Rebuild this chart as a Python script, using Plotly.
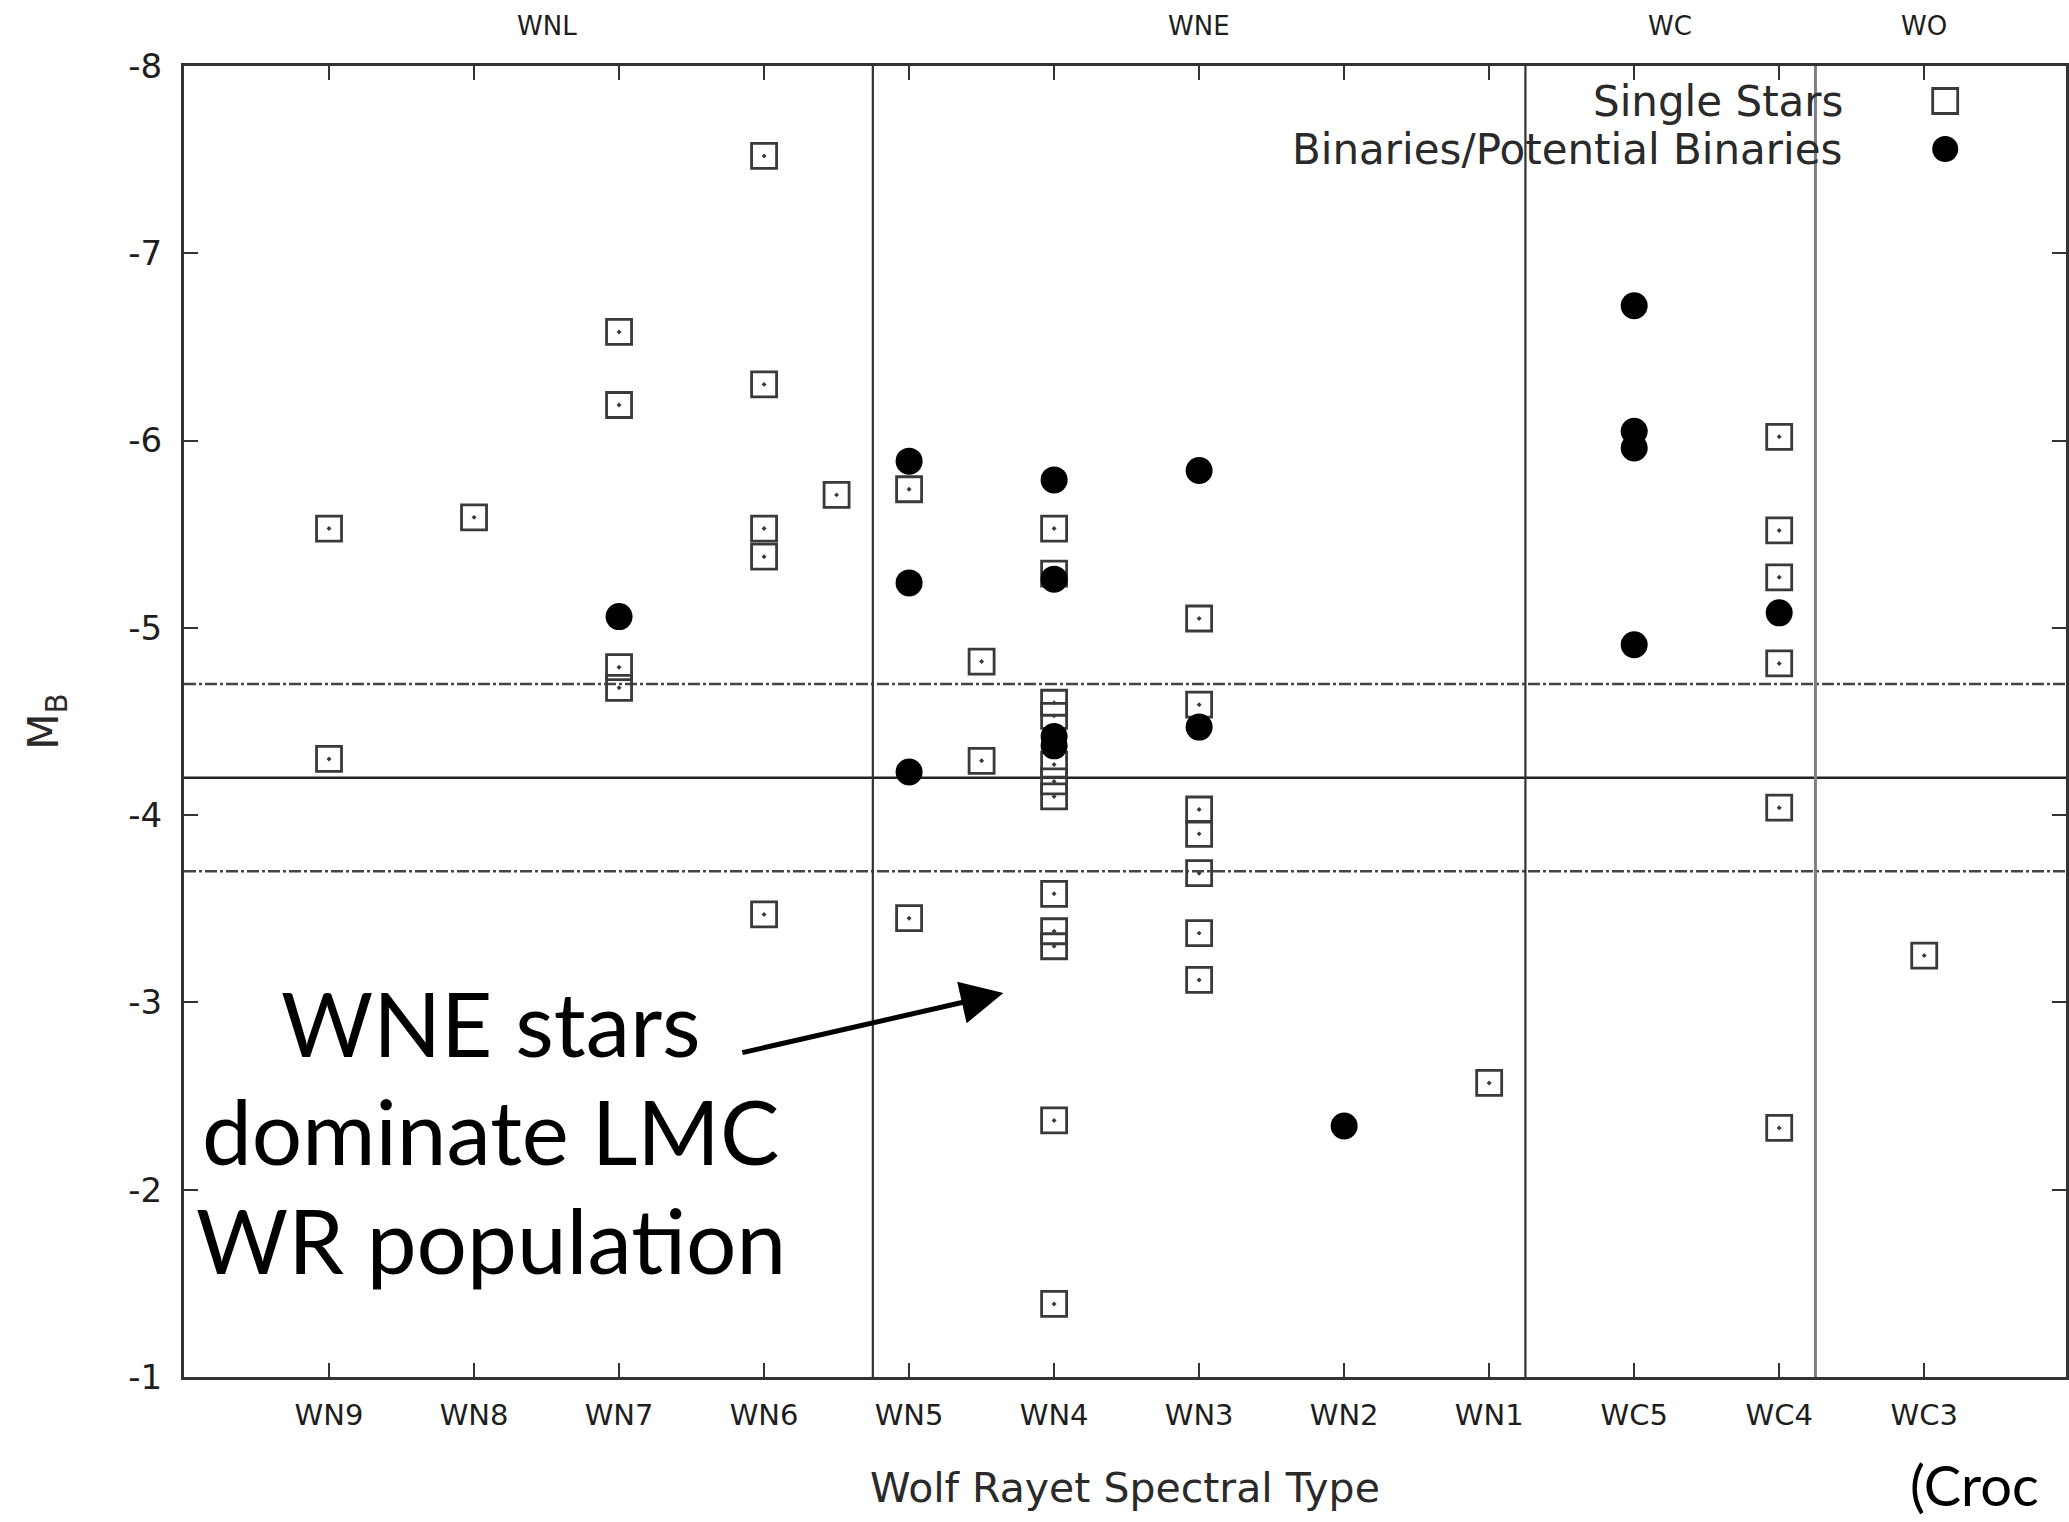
import plotly.graph_objects as go

# Spectral sequence along the x axis (WN9 ... WC3)
spectral_types = ["WN9", "WN8", "WN7", "WN6", "WN5", "WN4", "WN3", "WN2", "WN1", "WC5", "WC4", "WC3"]
# Intermediate subtypes plotted half-way between two neighbours
intermediate_types = {"WN5.5": ("WN6", "WN5"), "WN4.5": ("WN5", "WN4")}

# Single stars: spectral type and absolute B magnitude
single_type = (["WN9"] * 2 + ["WN8"] + ["WN7"] * 4 + ["WN6"] * 5 + ["WN5.5"] + ["WN5"] * 2 +
               ["WN4.5"] * 2 + ["WN4"] * 12 + ["WN3"] * 7 + ["WN1"] + ["WC4"] * 6 + ["WC3"])
single_mb = [-5.53, -4.30,
             -5.59,
             -6.58, -6.19, -4.79, -4.68,
             -7.52, -6.30, -5.53, -5.38, -3.47,
             -5.71,
             -5.74, -3.45,
             -4.82, -4.29,
             -5.53, -5.29, -4.60, -4.53, -4.27, -4.18, -4.10, -3.58, -3.38, -3.30, -2.37, -1.39,
             -5.05, -4.59, -4.03, -3.90, -3.69, -3.37, -3.12,
             -2.57,
             -6.02, -5.52, -5.27, -4.81, -4.04, -2.33,
             -3.25]

# Binaries / potential binaries
binary_type = (["WN7"] + ["WN5"] * 3 + ["WN4"] * 4 + ["WN3"] * 2 + ["WN2"] +
               ["WC5"] * 4 + ["WC4"])
binary_mb = [-5.06,
             -5.89, -5.24, -4.23,
             -5.79, -5.26, -4.42, -4.37,
             -5.84, -4.47,
             -2.34,
             -6.72, -6.05, -5.96, -4.91,
             -5.08]

# Mean magnitude and +/- spread, subclass dividers, subclass names
mean_mb = [-4.2]
spread_mb = [-4.7, -3.7]
class_dividers = [4.75, 9.25, 11.25]
class_names = ["WNL", "WNE", "WC", "WO"]
class_centers = [2.5, 7.0, 10.25, 12.0]
y_ticks = [-8, -7, -6, -5, -4, -3, -2, -1]

pos = {t: i + 1 for i, t in enumerate(spectral_types)}
for name, (a, b) in intermediate_types.items():
    pos[name] = (pos[a] + pos[b]) / 2

W, H = 2069, 1522
L, R, T, B = 184, 0, 66, 145
plot_w = W - L - R
plot_h = H - T - B
x_unit = 145.25
x_max = plot_w / x_unit

GN_FONT = "DejaVu Sans"
AXIS_COL = "#333333"
TEXT_COL = "#1e1e1e"


def px_to_paper_x(px):
    return (px - L) / plot_w


def px_to_paper_y(py):
    return (H - B - py) / plot_h


fig = go.Figure()

fig.add_trace(go.Scatter(
    x=[pos[t] for t in single_type], y=single_mb, mode="markers",
    name="Single Stars",
    marker=dict(symbol="square-open-dot", size=25, color="#3a3a3a",
                line=dict(width=2.8, color="#3a3a3a")),
))
fig.add_trace(go.Scatter(
    x=[pos[t] for t in binary_type], y=binary_mb, mode="markers",
    name="Binaries/Potential Binaries",
    marker=dict(symbol="circle", size=27, color="#000000", line=dict(width=0)),
))

shapes = []
for v in mean_mb:
    shapes.append(dict(type="line", xref="paper", x0=0, x1=1, yref="y", y0=v, y1=v,
                       line=dict(color="#222222", width=2.5), layer="below"))
for v in spread_mb:
    shapes.append(dict(type="line", xref="paper", x0=0, x1=1, yref="y", y0=v, y1=v,
                       line=dict(color="#444444", width=2.5, dash="12px,3px,3px,3px"), layer="below"))
for i, v in enumerate(class_dividers):
    col = "#808080" if i == 2 else "#333333"
    wid = 3 if i == 2 else 2.2
    shapes.append(dict(type="line", xref="x", x0=v, x1=v, yref="paper", y0=0, y1=1,
                       line=dict(color=col, width=wid), layer="below"))

# Key symbols, drawn to the right of the key texts
key_x = px_to_paper_x(1948)
key_y = [px_to_paper_y(101), px_to_paper_y(149)]
shapes.append(dict(type="rect", xref="paper", yref="paper", xsizemode="pixel", ysizemode="pixel",
                   xanchor=key_x, yanchor=key_y[0], x0=-12.5, x1=12.5, y0=-12.5, y1=12.5,
                   line=dict(color="#3a3a3a", width=2.8), fillcolor="rgba(0,0,0,0)"))
shapes.append(dict(type="circle", xref="paper", yref="paper", xsizemode="pixel", ysizemode="pixel",
                   xanchor=key_x, yanchor=key_y[1], x0=-13, x1=13, y0=-13, y1=13,
                   line=dict(width=0), fillcolor="#000000"))

annotations = []
for name, c in zip(class_names, class_centers):
    annotations.append(dict(x=c, xref="x", y=px_to_paper_y(26), yref="paper", text=name,
                            showarrow=False, xanchor="center", yanchor="middle",
                            font=dict(family=GN_FONT, size=26, color=TEXT_COL)))

for txt, ky in zip(["Single Stars", "Binaries/Potential Binaries"], key_y):
    annotations.append(dict(x=px_to_paper_x(1848), xref="paper", y=ky, yref="paper", text=txt,
                            showarrow=False, xanchor="right", yanchor="middle",
                            font=dict(family=GN_FONT, size=42, color="#2a2a2a")))

annotations.append(dict(x=0.5, xref="paper", y=px_to_paper_y(1488), yref="paper",
                        text="Wolf Rayet Spectral Type", showarrow=False,
                        xanchor="center", yanchor="middle",
                        font=dict(family=GN_FONT, size=41, color="#2a2a2a")))
annotations.append(dict(x=px_to_paper_x(46), xref="paper", y=0.5, yref="paper",
                        text="M<sub>B</sub>", showarrow=False, textangle=-90,
                        xanchor="center", yanchor="middle",
                        font=dict(family=GN_FONT, size=42, color="#2a2a2a")))

# Callout text and arrow
callout = ["WNE stars", "dominate LMC", "WR population"]
callout_y = [1022, 1130, 1239]
for txt, cy in zip(callout, callout_y):
    annotations.append(dict(x=px_to_paper_x(491), xref="paper", y=px_to_paper_y(cy), yref="paper",
                            text=txt, showarrow=False, xanchor="center", yanchor="middle",
                            font=dict(family="Lato", size=89, color="#000000")))
annotations.append(dict(x=5.65, y=-3.05, xref="x", yref="y", ax=3.84, ay=-2.73,
                        axref="x", ayref="y", text="", showarrow=True,
                        arrowhead=2, arrowsize=1.7, arrowwidth=5, arrowcolor="#000000"))

annotations.append(dict(x=px_to_paper_x(1911), xref="paper", y=px_to_paper_y(1484), yref="paper",
                        text="(Croc", showarrow=False, xanchor="left", yanchor="middle",
                        font=dict(family="Lato", size=56, color="#000000")))

fig.update_layout(
    width=W, height=H, autosize=False,
    margin=dict(l=L, r=R, t=T, b=B, pad=0),
    paper_bgcolor="white", plot_bgcolor="white",
    showlegend=False,
    font=dict(family=GN_FONT, color=TEXT_COL),
    shapes=shapes, annotations=annotations,
)
fig.update_xaxes(
    range=[0, x_max], tickmode="array",
    tickvals=[pos[t] for t in spectral_types], ticktext=spectral_types,
    ticks="inside", ticklen=14, tickwidth=2, tickcolor=AXIS_COL,
    showline=True, linewidth=3, linecolor=AXIS_COL, mirror="ticks",
    showgrid=False, zeroline=False,
    tickfont=dict(family=GN_FONT, size=29, color=TEXT_COL),
    ticklabelstandoff=10,
)
fig.update_yaxes(
    range=[-1, -8], tickmode="array",
    tickvals=y_ticks, ticktext=[str(v) for v in y_ticks],
    ticks="inside", ticklen=14, tickwidth=2, tickcolor=AXIS_COL,
    showline=True, linewidth=3, linecolor=AXIS_COL, mirror="ticks",
    showgrid=False, zeroline=False,
    tickfont=dict(family=GN_FONT, size=34, color=TEXT_COL),
    ticklabelstandoff=12,
)

fig.write_html("out.html")
